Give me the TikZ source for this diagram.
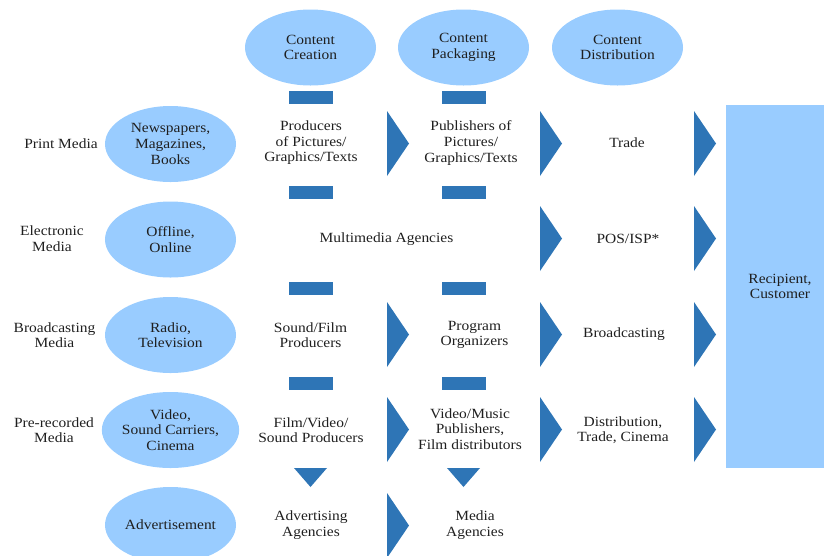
\documentclass[tikz,border=0pt]{standalone}
\usepackage{fontspec}
\setmainfont{Liberation Serif}[FakeStretch=1.1]
\usepackage{tikz}
\usetikzlibrary{shapes.geometric, positioning}
\definecolor{lightblue}{RGB}{153,204,255}
\definecolor{darkblue}{RGB}{46,117,182}

\begin{document}
\begin{tikzpicture}[
    x=0.03cm, y=-0.03cm,
    every node/.style={font=\fontsize{12}{13.3}\selectfont, text=black!88, align=center},
    phase/.style={ellipse, fill=lightblue, minimum width=3.93cm, minimum height=2.28cm, inner sep=0pt},
    bar/.style={rectangle, fill=darkblue, minimum width=1.32cm, minimum height=0.39cm, inner sep=0pt},
    medium/.style={inner sep=1pt},
    actor/.style={inner sep=1pt},
    recipient/.style={rectangle, fill=lightblue, minimum width=3.24cm, minimum height=10.89cm},
    chevr/.pic={\fill[darkblue] (-11,-32.5) -- (11,0) -- (-11,32.5) -- cycle;},
    chevd/.pic={\fill[darkblue] (-16.5,-9.5) -- (16.5,-9.5) -- (0,9.5) -- cycle;}
]
\useasboundingbox (0,0) rectangle (824,555);

% Value chain phases
\node[phase] (creation) at (310.5,47.5) {Content\\Creation};
\node[phase] (packaging) at (463.5,47.5) {Content\\Packaging};
\node[phase] (distribution) at (617.5,47.5) {Content\\Distribution};

% Media types
\node[medium] (print_label) at (61,143.5) {Print Media};
\node[phase] (print) at (170.5,144) {Newspapers,\\Magazines,\\Books};
\node[medium] (elec_label) at (52,238.5) {Electronic\\Media};
\node[phase] (elec) at (170.5,239.5) {Offline,\\Online};
\node[medium] (broad_label) at (54.5,335) {Broadcasting\\Media};
\node[phase] (broad) at (170.5,335) {Radio,\\Television};
\node[medium] (prerec_label) at (54,430) {Pre-recorded\\Media};
\node[phase] (prerec) at (170.5,430) {Video,\\Sound Carriers,\\Cinema};
\node[phase] (advert) at (170.5,525) {Advertisement};

% Actors per row
\node[actor] (print_c) at (311,143) {Producers\\of Pictures/\\Graphics/Texts};
\node[actor] (print_p) at (471,143) {Publishers of\\Pictures/\\Graphics/Texts};
\node[actor] (print_d) at (627,143) {Trade};
\node[actor] (elec_cp) at (386.5,239) {Multimedia Agencies};
\node[actor] (elec_d) at (628,239) {POS/ISP*};
\node[actor] (broad_c) at (310.5,335) {Sound/Film\\Producers};
\node[actor] (broad_p) at (474.5,335) {Program\\Organizers};
\node[actor] (broad_d) at (624,334.5) {Broadcasting};
\node[actor] (prerec_c) at (311,430) {Film/Video/\\Sound Producers};
\node[actor] (prerec_p) at (470,429) {Video/Music\\Publishers,\\Film distributors};
\node[actor] (prerec_d) at (623,430) {Distribution,\\Trade, Cinema};
\node[actor] (advert_c) at (311,525) {Advertising\\Agencies};
\node[actor] (advert_p) at (475,525) {Media\\Agencies};

% Recipient
\node[recipient] (customer) at (780,286.5) {Recipient,\\Customer};

% Bars
\foreach \y [count=\i] in {97.5,192.5,288.5,383.5} {
    \node[bar] (bar_c\i) at (311,\y) {};
    \node[bar] (bar_p\i) at (464,\y) {};
}

% Chevrons
\foreach \x/\y in {398/143.5, 551/143.5, 705/143.5,
                   551/238.5, 705/238.5,
                   398/334.5, 551/334.5, 705/334.5,
                   398/429.5, 551/429.5, 705/429.5,
                   398/525.5}
    \pic at (\x,\y) {chevr};
\pic at (310.5,477.5) {chevd};
\pic at (463.5,477.5) {chevd};

\end{tikzpicture}
\end{document}
